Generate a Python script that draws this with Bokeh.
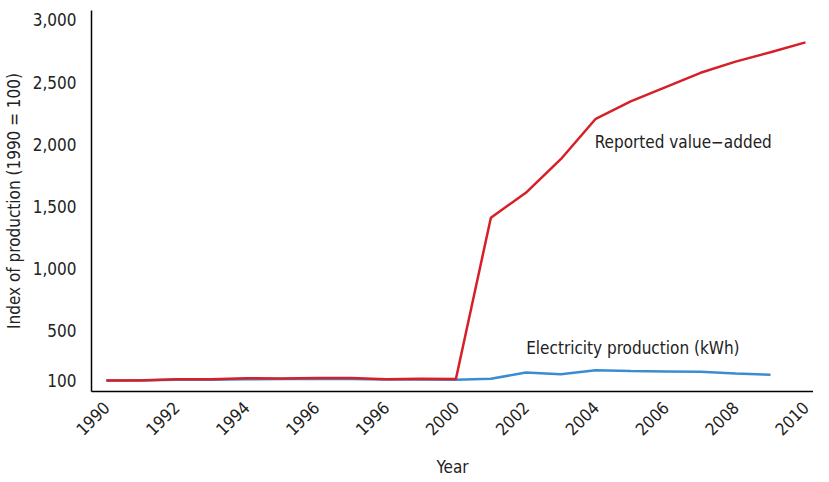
import math
from bokeh.plotting import figure
from bokeh.models import FixedTicker, NumeralTickFormatter, Label, Range1d
from bokeh.embed import file_html
from bokeh.resources import INLINE

years = list(range(1990, 2011))
value_added = [100, 100, 110, 111, 118, 117, 121, 120, 110, 114, 113,
               1410, 1610, 1880, 2205, 2345, 2460, 2575, 2665, 2740, 2820]
elec_years = list(range(1990, 2010))
electricity = [100, 103, 106, 107, 110, 112, 114, 113, 108, 108, 106,
               115, 164, 150, 182, 176, 173, 170, 157, 147]

x_ticks = [1990, 1992, 1994, 1996, 1998, 2000, 2002, 2004, 2006, 2008, 2010]
x_tick_labels = ["1990", "1992", "1994", "1996", "1996", "2000",
                 "2002", "2004", "2006", "2008", "2010"]
y_ticks = [100, 500, 1000, 1500, 2000, 2500, 3000]

FONT = "DejaVu Sans Condensed"
RED = "#d71f27"
BLUE = "#3a8dd0"
TXT = "#222222"

p = figure(width=813, height=480, output_backend="svg", toolbar_location=None,
           x_range=Range1d(1989.575, 2010.23), y_range=Range1d(12, 3076),
           min_border_left=84, min_border_right=0, min_border_top=10,
           min_border_bottom=81)
p.outline_line_color = None
p.grid.visible = False

p.line(elec_years, electricity, line_color=BLUE, line_width=2.5)
p.line(years, value_added, line_color=RED, line_width=2.5)

xa = p.xaxis[0]
xa.ticker = FixedTicker(ticks=x_ticks)
xa.major_label_overrides = {t: l for t, l in zip(x_ticks, x_tick_labels)}
xa.major_label_orientation = math.pi / 4
xa.axis_label = "Year"
ya = p.yaxis[0]
ya.ticker = FixedTicker(ticks=y_ticks)
ya.formatter = NumeralTickFormatter(format="0,0")
ya.axis_label = "Index of production (1990 = 100)"

for ax in (xa, ya):
    ax.major_tick_line_color = None
    ax.minor_tick_line_color = None
    ax.axis_line_color = "black"
    ax.axis_line_width = 1.5
    ax.major_label_text_font = FONT
    ax.major_label_text_font_size = "17px"
    ax.major_label_text_color = TXT
    ax.axis_label_text_font = FONT
    ax.axis_label_text_font_size = "17px"
    ax.axis_label_text_font_style = "normal"
    ax.axis_label_text_color = TXT
ya.major_label_standoff = 9
xa.major_label_standoff = 7
xa.axis_label_standoff = 13
ya.axis_label_standoff = 6

p.add_layout(Label(x=2003.97, y=2020, text="Reported value\u2212added",
                   text_font=FONT, text_font_size="17px", text_color=TXT,
                   text_baseline="middle"))
p.add_layout(Label(x=2002.01, y=364, text="Electricity production (kWh)",
                   text_font=FONT, text_font_size="17px", text_color=TXT,
                   text_baseline="middle"))

open("out.html", "w").write(file_html(p, INLINE))
